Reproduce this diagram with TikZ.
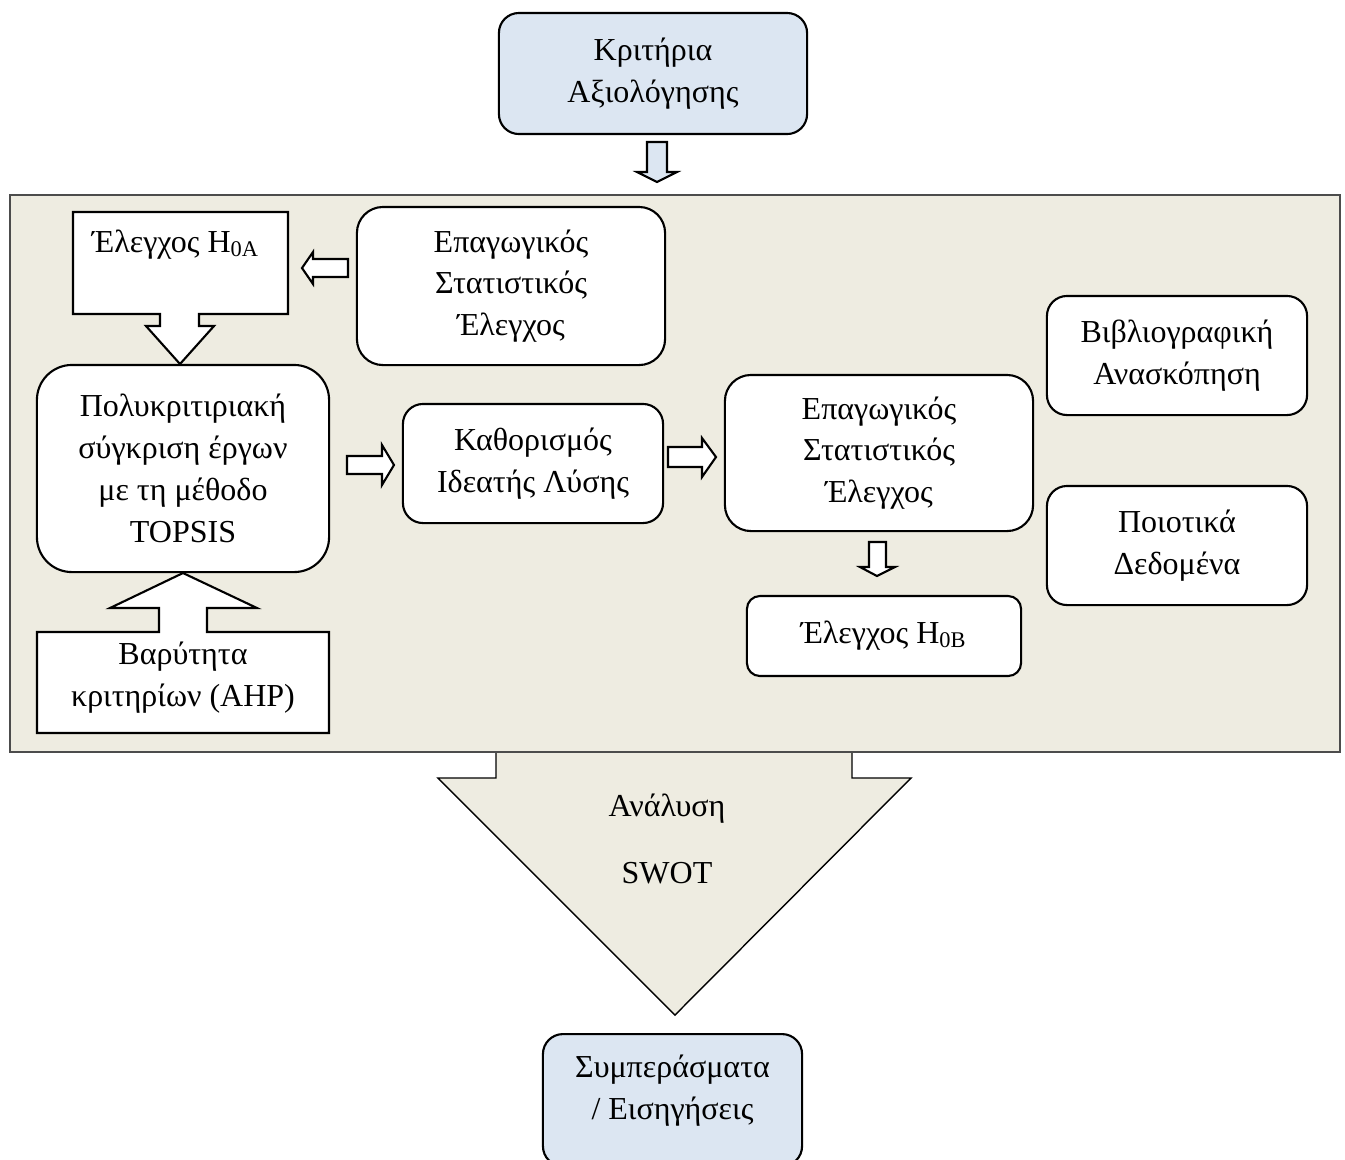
\documentclass[tikz,border=0pt]{standalone}
\usepackage{fontspec}
\setmainfont{Liberation Serif}
\usetikzlibrary{calc}
\definecolor{panel}{HTML}{EEECE1}
\definecolor{critblue}{HTML}{DCE6F2}

\begin{document}
\begin{tikzpicture}[x=0.01cm,y=-0.01cm,
  font=\fontsize{9.1}{11.9}\selectfont,
  box/.style={draw,line width=0.6pt,fill=white,align=center,inner sep=0pt},
  barrow/.style={draw,line width=0.6pt,fill=white,line join=miter}]
\useasboundingbox (0,0) rectangle (1345,1159);
\draw[barrow,fill=panel,line width=0.4pt] (496,740) -- (496,778) -- (438,778) -- (675,1015) -- (911,778) -- (852,778) -- (852,740);
\draw[fill=panel,draw=black!70,line width=0.4pt] (10,195) rectangle (1340,752);

\node[box,fill=critblue,rounded corners=0.2cm,minimum width=3.08cm,minimum height=1.21cm] (kritiria) at (653,73.5) {Κριτήρια\\Αξιολόγησης};
\draw[barrow,fill=critblue] (647,142) -- (667,142) -- (667,172) -- (677,172) -- (657,182) -- (637,172) -- (647,172) -- cycle;

\draw[barrow] (73,212) -- (288,212) -- (288,314) -- (199,314) -- (199,326) -- (214,326) -- (180,364) -- (146,326) -- (160,326) -- (160,314) -- (73,314) -- cycle;
\node (elegxosA) at (176,245) {Έλεγχος H\textsubscript{0A}};
\node[box,rounded corners=0.26cm,minimum width=3.08cm,minimum height=1.58cm] (epagA) at (511,286) {Επαγωγικός\\Στατιστικός\\Έλεγχος};
\draw[barrow] (348,259) -- (313,259) -- (313,252) -- (302,268) -- (313,284) -- (313,277) -- (348,277) -- cycle;

\node[box,rounded corners=0.35cm,minimum width=2.92cm,minimum height=2.07cm] (topsis) at (183,468.5) {Πολυκριτιριακή\\σύγκριση έργων\\με τη μέθοδο\\TOPSIS};
\draw[barrow] (37,632) -- (159,632) -- (159,608) -- (110,608) -- (183,573) -- (257,608) -- (207,608) -- (207,632) -- (329,632) -- (329,733) -- (37,733) -- cycle;
\node[align=center] (ahp) at (183,678) {Βαρύτητα\\κριτηρίων (AHP)};

\draw[barrow] (347,456) -- (382,456) -- (382,445) -- (394,465) -- (382,485) -- (382,474) -- (347,474) -- cycle;
\node[box,rounded corners=0.2cm,minimum width=2.6cm,minimum height=1.19cm] (ideal) at (533,463.5) {Καθορισμός\\Ιδεατής Λύσης};
\draw[barrow] (668,447) -- (702,447) -- (702,438) -- (716,457) -- (702,477) -- (702,467) -- (668,467) -- cycle;

\node[box,rounded corners=0.26cm,minimum width=3.08cm,minimum height=1.56cm] (epagB) at (879,453) {Επαγωγικός\\Στατιστικός\\Έλεγχος};
\draw[barrow] (869,542) -- (886,542) -- (886,567) -- (895,567) -- (877,576) -- (860,567) -- (869,567) -- cycle;
\node[box,rounded corners=0.13cm,minimum width=2.74cm,minimum height=0.8cm] (elegxosB) at (884,636) {Έλεγχος H\textsubscript{0B}};

\node[box,rounded corners=0.2cm,minimum width=2.6cm,minimum height=1.19cm] (biblio) at (1177,355.5) {Βιβλιογραφική\\Ανασκόπηση};
\node[box,rounded corners=0.2cm,minimum width=2.6cm,minimum height=1.19cm] (poiotika) at (1177,545.5) {Ποιοτικά\\Δεδομένα};

\node[align=center] (swot) at (667,839) {Ανάλυση\\[0.26cm]SWOT};

\node[box,fill=critblue,rounded corners=0.2cm,minimum width=2.59cm,minimum height=1.32cm,anchor=north] (symper) at (672.5,1033) {};
\node[align=center] (sympertxt) at (672.5,1091) {Συμπεράσματα\\/ Εισηγήσεις};
\end{tikzpicture}
\end{document}
